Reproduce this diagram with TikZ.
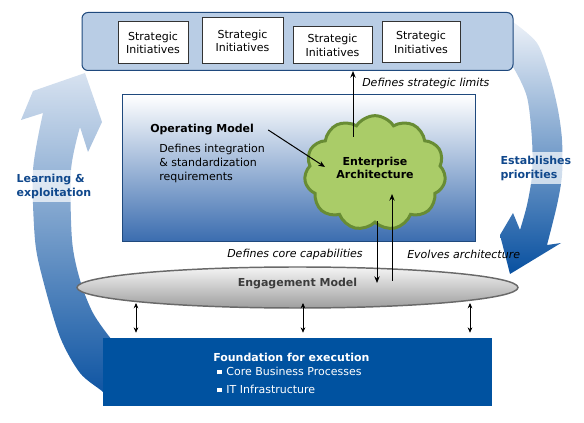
\documentclass[tikz,border=0pt]{standalone}
\usepackage{fontspec}
\setmainfont{DejaVu Sans}
\usetikzlibrary{shapes.symbols,shapes.geometric,arrows.meta}
\definecolor{topfill}{RGB}{185,205,229}
\definecolor{navy}{RGB}{31,73,125}
\definecolor{fblue}{RGB}{0,82,160}
\definecolor{cloudfill}{RGB}{170,204,104}
\definecolor{cloudline}{RGB}{104,140,52}
\definecolor{lbl}{RGB}{16,72,140}
\definecolor{engtxt}{RGB}{60,60,60}
\definecolor{engline}{RGB}{105,105,105}
\definecolor{opmid}{RGB}{185,205,232}
\definecolor{opbot}{RGB}{58,108,175}
\definecolor{bandlight}{RGB}{215,226,240}
\definecolor{bandtop}{RGB}{236,241,248}
\definecolor{banddark}{RGB}{8,80,160}
\begin{document}
\begin{tikzpicture}[x=0.75pt,y=-0.75pt,
  every node/.style={font=\fontsize{8.25pt}{10pt}\selectfont, inner sep=0pt},
  sibox/.style={draw=black!80, fill=white, line width=0.75pt, align=center},
  bold/.style={font=\fontsize{8.25pt}{10pt}\selectfont\bfseries},
  ital/.style={font=\fontsize{8.25pt}{10pt}\selectfont\itshape},
  arr/.style={-{Stealth[length=5pt,width=4pt]}, line width=0.75pt},
  dbl/.style={{Stealth[length=4pt,width=3.5pt]}-{Stealth[length=4pt,width=3.5pt]}, line width=0.75pt},
  bandlbl/.style={font=\fontsize{8.25pt}{10.5pt}\selectfont\bfseries, text=lbl, align=left,
    fill=white, fill opacity=0.7, text opacity=1, inner ysep=3pt, inner xsep=1pt}
]
\useasboundingbox (0,0) rectangle (584,423);

% left curved arrow band
\shade[top color=bandlight, bottom color=banddark]
  (85,73) -- (102,122) -- (88,152) -- (80,127)
  -- plot[smooth] coordinates {(80,127) (71,170) (72,240) (80,280) (93,313) (112,340) (125,352)}
  -- (112,404)
  -- plot[smooth] coordinates {(112,404) (103,392) (80,373) (60,337) (43,280) (35,240) (33,170) (43,113)}
  -- (21,120) -- (33,91) -- cycle;

% right curved arrow band
\shade[top color=bandtop, bottom color=banddark]
  (505,22)
  -- plot[smooth] coordinates {(513,22) (537,43) (550,77) (558,110) (562,140) (562,175) (557,205) (547,245)}
  -- (561,243) -- (510,274) -- (500,235) -- (513,213)
  -- plot[smooth] coordinates {(520,230) (527,205) (532,175) (532,140) (527,97) (513,67) (505,62)}
  -- cycle;

% top box with strategic initiatives
\node[draw=navy, fill=topfill, rounded corners=4.5pt, line width=0.75pt,
  minimum width=323.25pt, minimum height=43.5pt] (top) at (297.5,41.5) {};
\node[sibox, minimum width=52.5pt, minimum height=31.5pt] (si1) at (153,43) {Strategic\\Initiatives};
\node[sibox, minimum width=60.75pt, minimum height=34.5pt] (si2) at (242.5,41) {Strategic\\Initiatives};
\node[sibox, minimum width=59.25pt, minimum height=27.75pt] (si3) at (332.5,45.5) {Strategic\\Initiatives};
\node[sibox, minimum width=58.5pt, minimum height=30.75pt] (si4) at (421,42.5) {Strategic\\Initiatives};

% operating model box
\node[draw=navy, line width=0.75pt, top color=white, middle color=opmid, bottom color=opbot,
  minimum width=264.75pt, minimum height=110.25pt] (op) at (298.5,168.5) {};
\node[bold, anchor=west] (om) at (150,130) {Operating Model};
\node[anchor=north west, align=left, font=\fontsize{8.25pt}{10.5pt}\selectfont] (omt) at (159,144)
  {Defines integration\\\& standardization\\requirements};

% cloud
\node[cloud, cloud puffs=11, cloud puff arc=115, aspect=1.25, draw=cloudline, fill=cloudfill,
  line width=2.25pt, minimum width=106pt, minimum height=86pt] (ea) at (375,173) {};
\node[bold, align=center] (eat) at (375,168) {Enterprise\\Architecture};

% engagement model ellipse
\node[ellipse, draw=engline, line width=1.1pt, top color=black!4, bottom color=black!38,
  minimum width=330.75pt, minimum height=30.75pt] (eng) at (297.5,287.5) {};
\node[bold, text=engtxt] (engt) at (297.5,284) {Engagement Model};

% foundation
\node[fill=fblue, minimum width=291.75pt, minimum height=51pt] (fd) at (297.5,372) {};
\node[bold, text=white, anchor=west] (fdt) at (213,357) {Foundation for execution};
\node[text=white, anchor=west] (fb1) at (217,371) {\rule[0.6pt]{3.3pt}{3.3pt}\hspace{3.6pt}Core Business Processes};
\node[text=white, anchor=west] (fb2) at (217,389) {\rule[0.6pt]{3.3pt}{3.3pt}\hspace{3.6pt}IT Infrastructure};

% band labels
\node[bandlbl, anchor=west] (lrn) at (15,186) {Learning \&\\exploitation};
\node[bandlbl, anchor=west] (est) at (499,168) {Establishes\\priorities};

% italic labels
\node[ital, anchor=west] (lsl) at (362,83) {Defines strategic limits};
\node[ital, anchor=west] (lcc) at (227,254) {Defines core capabilities};
\node[ital, anchor=west] (lev) at (407,254) {Evolves architecture};

% connectors
\coordinate (slA) at (353,137);
\draw[arr] (slA) -- (slA |- top.south);
\coordinate (eaIn) at (325,167);
\draw[arr] ([xshift=10.5pt]om.east) -- (eaIn);
\coordinate (caA) at (377,221);
\coordinate (caB) at (377,283);
\draw[arr] (caA) -- (caB);
\coordinate (evA) at (392,281);
\coordinate (evB) at (392,194);
\draw[arr] (evA) -- (evB);
\coordinate (d1) at (136,303);
\coordinate (d2) at (303,303);
\coordinate (d3) at (470,303);
\draw[dbl, shorten >=3.75pt] (d1) -- (d1 |- fd.north);
\draw[dbl, shorten >=3.75pt] (d2) -- (d2 |- fd.north);
\draw[dbl, shorten >=3.75pt] (d3) -- (d3 |- fd.north);
\end{tikzpicture}
\end{document}
